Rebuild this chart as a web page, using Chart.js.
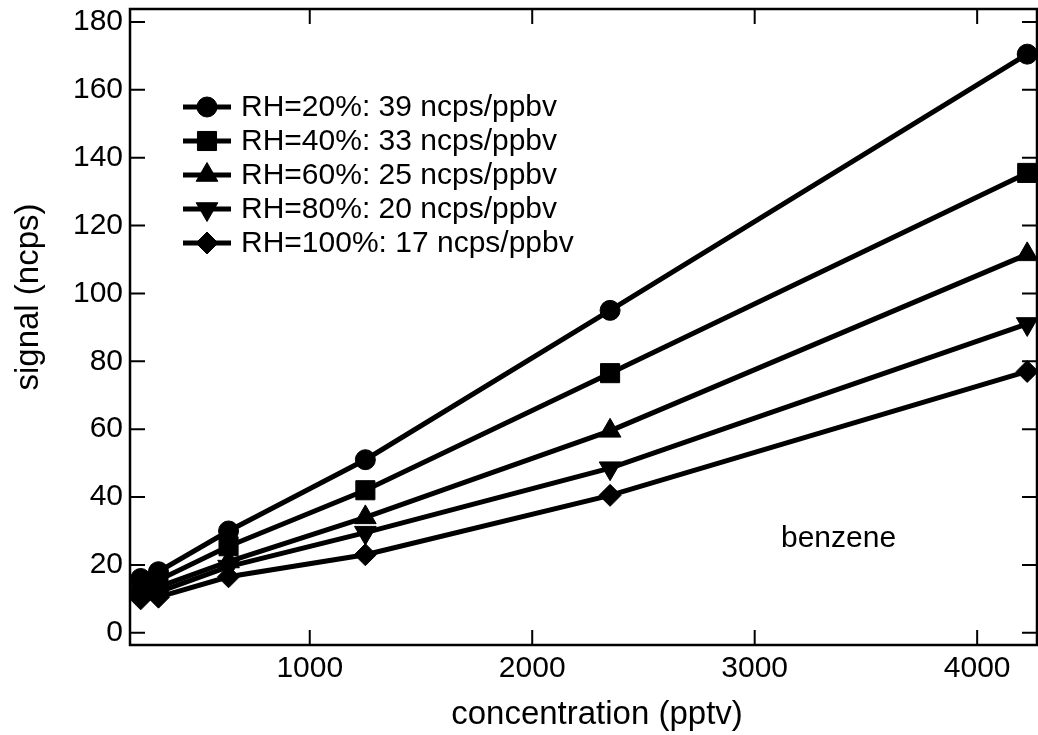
<!DOCTYPE html>
<html>
<head>
<meta charset="utf-8">
<script src="https://cdn.jsdelivr.net/npm/chart.js@4/dist/chart.umd.min.js"></script>
<style>
html, body { margin: 0; padding: 0; background: #fff; }
#wrap { width: 1038px; height: 735px; }
</style>
</head>
<body>
<div id="wrap"><canvas id="benzeneChart" width="1038" height="735"></canvas></div>
<script>
// concentration (pptv) and signal (ncps)
const concentration = [240, 320, 635, 1250, 2350, 4225];
const rh20 = [16, 18, 30, 51, 95, 170.5];
const rh40 = [14, 15.5, 25.5, 42, 76.5, 135.5];
const rh60 = [12.5, 13.5, 21, 34, 59.5, 111.5];
const rh80 = [11, 12, 19.5, 29.5, 48.5, 91];
const rh100 = [10, 10.5, 16.5, 23, 40.5, 77];

const seriesLabels = [
    'RH=20%: 39 ncps/ppbv',
    'RH=40%: 33 ncps/ppbv',
    'RH=60%: 25 ncps/ppbv',
    'RH=80%: 20 ncps/ppbv',
    'RH=100%: 17 ncps/ppbv'
];
const xTicks = [1000, 2000, 3000, 4000];
const yTicks = [0, 20, 40, 60, 80, 100, 120, 140, 160, 180];

const FONT = "'Liberation Sans', Arial, Helvetica, sans-serif";

function toPoints(ys) {
    return ys.map((y, i) => ({ x: concentration[i], y: y }));
}

function makeSet(label, ys, style, radius, rotation) {
    return {
        label: label,
        data: toPoints(ys),
        borderColor: '#000',
        backgroundColor: '#000',
        borderWidth: 5,
        pointStyle: style,
        pointRadius: radius,
        pointRotation: rotation || 0,
        pointBackgroundColor: '#000',
        pointBorderColor: '#000',
        pointBorderWidth: 1,
        fill: false,
        tension: 0,
        clip: false
    };
}

// box around the plot with inward ticks on all four sides
const framePlugin = {
    id: 'frame',
    beforeDatasetsDraw(chart) {
        const ctx = chart.ctx;
        const a = chart.chartArea;
        const xs = chart.scales.x;
        const ys = chart.scales.y;
        const len = 15;
        ctx.save();
        ctx.strokeStyle = '#000';
        ctx.lineWidth = 2.5;
        ctx.strokeRect(a.left, a.top, a.right - a.left, a.bottom - a.top);
        ctx.lineWidth = 2;
        ctx.beginPath();
        xTicks.forEach(v => {
            const px = xs.getPixelForValue(v);
            ctx.moveTo(px, a.bottom); ctx.lineTo(px, a.bottom - len);
            ctx.moveTo(px, a.top); ctx.lineTo(px, a.top + len);
        });
        yTicks.forEach(v => {
            const py = ys.getPixelForValue(v);
            ctx.moveTo(a.left, py); ctx.lineTo(a.left + len, py);
            ctx.moveTo(a.right, py); ctx.lineTo(a.right - len, py);
        });
        ctx.stroke();
        ctx.restore();
    },
    afterDraw(chart) {
        const ctx = chart.ctx;
        ctx.save();
        ctx.fillStyle = '#000';
        // legend
        const rowY = [107, 141, 175, 209, 243];
        chart.data.datasets.forEach((ds, i) => {
            const y = rowY[i];
            ctx.strokeStyle = '#000';
            ctx.fillStyle = '#000';
            ctx.lineWidth = 5;
            ctx.beginPath();
            ctx.moveTo(183, y);
            ctx.lineTo(231, y);
            ctx.stroke();
            ctx.lineWidth = 1;
            Chart.helpers.drawPoint(ctx, {
                pointStyle: ds.pointStyle,
                rotation: ds.pointRotation,
                radius: ds.pointRadius,
                borderWidth: 1
            }, 207, y);
            ctx.font = '30px ' + FONT;
            ctx.textBaseline = 'middle';
            ctx.textAlign = 'left';
            ctx.fillText(ds.label, 241, y + 1);
        });
        // compound name
        ctx.font = '30px ' + FONT;
        ctx.textBaseline = 'middle';
        ctx.textAlign = 'left';
        ctx.fillText('benzene', 781, 539);
        // axis titles
        ctx.font = '33px ' + FONT;
        ctx.textAlign = 'center';
        ctx.fillText('concentration (pptv)', 597, 715);
        ctx.translate(29, 297);
        ctx.rotate(-Math.PI / 2);
        ctx.fillText('signal (ncps)', 0, 0);
        ctx.restore();
    }
};

const ctx = document.getElementById('benzeneChart').getContext('2d');

const chart = new Chart(ctx, {
    type: 'line',
    data: {
        datasets: [
            makeSet(seriesLabels[0], rh20, 'circle', 10),
            makeSet(seriesLabels[1], rh40, 'rect', 13.5),
            makeSet(seriesLabels[2], rh60, 'triangle', 12.5),
            makeSet(seriesLabels[3], rh80, 'triangle', 12.5, 180),
            makeSet(seriesLabels[4], rh100, 'rectRot', 11)
        ]
    },
    options: {
        responsive: false,
        animation: false,
        devicePixelRatio: 1,
        layout: {
            autoPadding: false,
            padding: { top: 9, right: 1, left: 0, bottom: 0 }
        },
        plugins: {
            legend: { display: false },
            tooltip: { enabled: false }
        },
        scales: {
            x: {
                type: 'linear',
                min: 192,
                max: 4269,
                afterBuildTicks: scale => { scale.ticks = xTicks.map(v => ({ value: v })); },
                afterFit: scale => {
                    scale.height = 90;
                    scale.paddingLeft = 0;
                    scale.paddingRight = 0;
                },
                grid: { display: false, drawTicks: false },
                border: { display: false },
                ticks: {
                    color: '#000',
                    padding: 6,
                    maxRotation: 0,
                    callback: v => String(v),
                    font: { family: FONT, size: 30 }
                }
            },
            y: {
                type: 'linear',
                min: -3.6,
                max: 183.8,
                afterBuildTicks: scale => { scale.ticks = yTicks.map(v => ({ value: v })); },
                afterFit: scale => {
                    scale.width = 130;
                    scale.paddingTop = 0;
                    scale.paddingBottom = 0;
                },
                grid: { display: false, drawTicks: false },
                border: { display: false },
                ticks: {
                    color: '#000',
                    padding: 7,
                    callback: v => String(v),
                    font: { family: FONT, size: 30 }
                }
            }
        }
    },
    plugins: [framePlugin]
});
</script>
</body>
</html>
